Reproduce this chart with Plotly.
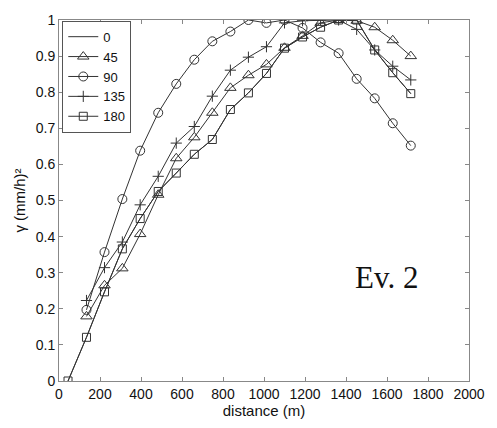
import plotly.graph_objects as go

lags = [44, 134, 222, 309, 396, 484, 572, 660, 748, 836, 924, 1012, 1100, 1188, 1276, 1364, 1452, 1540, 1628, 1716]

g180 = [0.0, 0.121, 0.247, 0.366, 0.450, 0.525, 0.576, 0.628, 0.669, 0.752, 0.798, 0.852, 0.922, 0.953, 0.980, 1.0, 1.0, 0.917, 0.854, 0.796]
g0 = list(g180)
lags45 = lags[1:]
g45 = [0.179, 0.265, 0.312, 0.407, 0.516, 0.617, 0.675, 0.743, 0.812, 0.847, 0.877, 0.923, 0.956, 0.992, 1.0, 0.998, 0.980, 0.944, 0.900]
lags90 = lags[1:]
g90 = [0.197, 0.357, 0.504, 0.638, 0.743, 0.823, 0.890, 0.941, 0.968, 1.0, 0.992, 1.0, 0.978, 0.938, 0.908, 0.837, 0.783, 0.714, 0.652]
lags135 = lags[1:]
g135 = [0.223, 0.314, 0.385, 0.488, 0.567, 0.659, 0.705, 0.789, 0.861, 0.897, 0.926, 0.992, 0.998, 1.0, 1.0, 0.974, 0.917, 0.872, 0.834]

x_ticks = list(range(0, 2001, 200))
y_ticks = [0, 0.1, 0.2, 0.3, 0.4, 0.5, 0.6, 0.7, 0.8, 0.9, 1]
y_tick_labels = ["0", "0.1", "0.2", "0.3", "0.4", "0.5", "0.6", "0.7", "0.8", "0.9", "1"]

LINE = "#333333"
MK = "#333333"

fig = go.Figure()
fig.add_trace(go.Scatter(x=lags, y=g0, name="0", mode="lines",
                         line=dict(color=LINE, width=1)))
fig.add_trace(go.Scatter(x=lags45, y=g45, name="45", mode="lines+markers",
                         line=dict(color=LINE, width=1),
                         marker=dict(symbol="triangle-up-open", size=10, color=MK, line=dict(width=1))))
fig.add_trace(go.Scatter(x=lags90, y=g90, name="90", mode="lines+markers",
                         line=dict(color=LINE, width=1),
                         marker=dict(symbol="circle-open", size=9, color=MK, line=dict(width=1))))
fig.add_trace(go.Scatter(x=lags135, y=g135, name="135", mode="lines+markers",
                         line=dict(color=LINE, width=1),
                         marker=dict(symbol="cross-thin-open", size=8, color=MK, line=dict(width=1, color=MK))))
fig.add_trace(go.Scatter(x=lags, y=g180, name="180", mode="lines+markers",
                         line=dict(color=LINE, width=1),
                         marker=dict(symbol="square-open", size=8, color=MK, line=dict(width=1))))

axis_common = dict(showgrid=False, zeroline=False, showline=True, linecolor="#888888", linewidth=1,
                   mirror="ticks", ticks="inside", ticklen=4, tickcolor="#888888",
                   tickfont=dict(family="Arial, Liberation Sans", size=14, color="#111111"))

fig.update_xaxes(range=[0, 2000], tickvals=x_ticks, ticktext=[str(v) for v in x_ticks],
                 title=dict(text="distance (m)", font=dict(family="Arial, Liberation Sans", size=15, color="#111111"), standoff=0),
                 **axis_common)
fig.update_yaxes(range=[0, 1], tickvals=y_ticks, ticktext=y_tick_labels,
                 title=dict(text="γ (mm/h)²", font=dict(family="Arial, Liberation Sans", size=15, color="#111111"), standoff=6),
                 **axis_common)

fig.add_annotation(x=1596, y=0.287, xref="x", yref="y", text="Ev. 2", showarrow=False,
                   font=dict(family="Liberation Serif, Times New Roman", size=31, color="#111111"))

fig.update_layout(
    width=497, height=428,
    margin=dict(l=59, r=17, t=12, b=47),
    paper_bgcolor="white", plot_bgcolor="white",
    legend=dict(x=0.008, y=0.998, xanchor="left", yanchor="top",
                bgcolor="white", bordercolor="#555555", borderwidth=1,
                font=dict(family="Arial, Liberation Sans", size=13, color="#111111"),
                tracegroupgap=0, itemwidth=30),
    showlegend=True,
)

fig.write_html("out.html")
